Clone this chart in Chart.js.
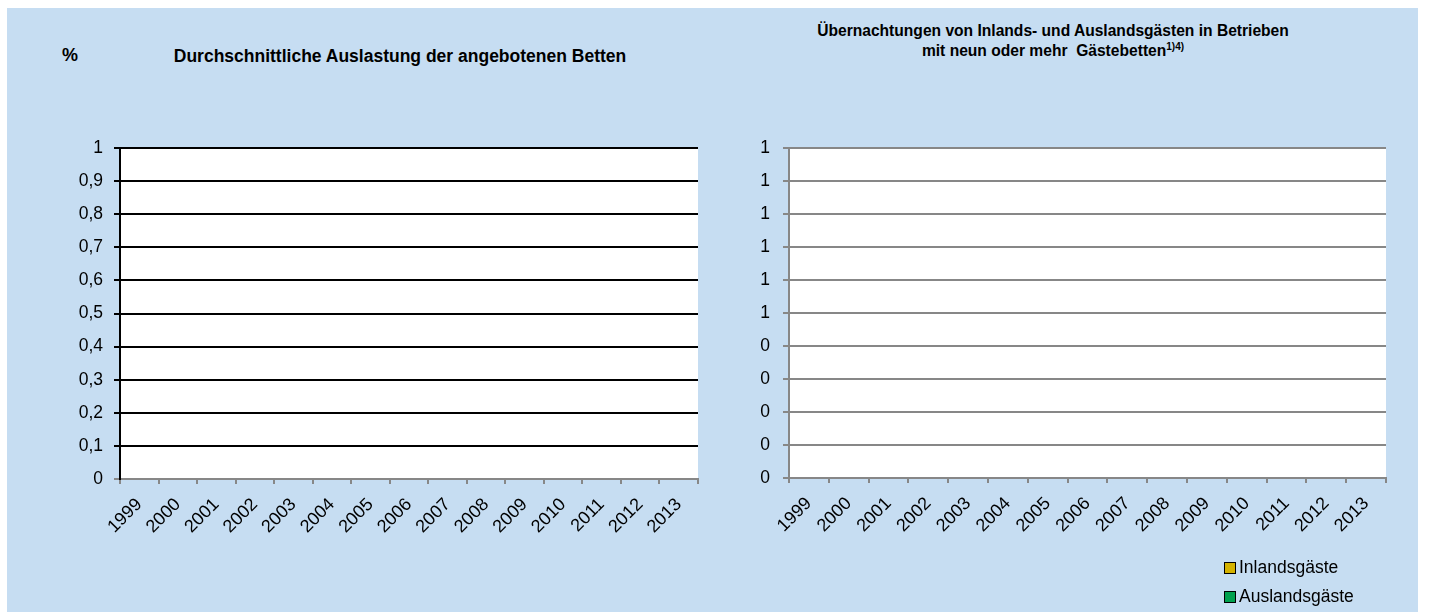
<!DOCTYPE html>
<html>
<head>
<meta charset="utf-8">
<script src="https://cdn.jsdelivr.net/npm/chart.js@4/dist/chart.umd.min.js"></script>
<style>
  html, body { margin: 0; padding: 0; background: #ffffff; }
  body { width: 1429px; height: 612px; position: relative; overflow: hidden; font-family: 'Liberation Sans', Arial, sans-serif; }
  #bg { position: absolute; left: 7px; top: 8px; width: 1411px; height: 604px; background: #c6ddf2; }
  .box { position: absolute; top: 0; height: 612px; }
  #leftBox { left: 0; width: 710px; }
  #rightBox { left: 715px; width: 700px; }
  .title { position: absolute; font-weight: bold; color: #000; white-space: nowrap; text-align: center; }
  #pct { left: 62px; top: 45px; font-size: 18px; }
  #t1 { left: 170px; width: 460px; top: 46px; font-size: 17.5px; }
  #t2 { left: 800px; width: 506px; top: 21px; font-size: 15.6px; line-height: 20px; }
  #t2 sup { font-size: 10px; vertical-align: 6px; line-height: 0; }
  #legend { position: absolute; left: 1224px; top: 553px; font-size: 17.5px; color: #000; }
  .li { display: flex; align-items: center; height: 29px; }
  .sw { width: 10px; height: 10px; border: 1.5px solid #000; margin-right: 3px; }
</style>
</head>
<body>
<div id="bg"></div>
<div class="title" id="pct">%</div>
<div class="title" id="t1">Durchschnittliche Auslastung der angebotenen Betten</div>
<div class="title" id="t2">Übernachtungen von Inlands- und Auslandsgästen in Betrieben<br>mit neun oder mehr&nbsp; Gästebetten<sup>1)4)</sup></div>
<div class="box" id="leftBox"><canvas id="c1"></canvas></div>
<div class="box" id="rightBox"><canvas id="c2"></canvas></div>
<div id="legend"></div>
<script>
// ---- data (the source chart shows no values) ----
const years = ['1999','2000','2001','2002','2003','2004','2005','2006','2007','2008','2009','2010','2011','2012','2013'];
const auslastung = [null, null, null, null, null, null, null, null, null, null, null, null, null, null, null];
const inlandsgaeste = [null, null, null, null, null, null, null, null, null, null, null, null, null, null, null];
const auslandsgaeste = [null, null, null, null, null, null, null, null, null, null, null, null, null, null, null];
const yTicksLeft = ['0', '0,1', '0,2', '0,3', '0,4', '0,5', '0,6', '0,7', '0,8', '0,9', '1'];
const yTicksRight = ['0', '0', '0', '0', '0', '1', '1', '1', '1', '1', '1'];
const seriesNames = ['Inlandsgäste', 'Auslandsgäste'];
const seriesColors = ['#d4b200', '#00a14e'];

const FONT = "'Liberation Sans', Arial, sans-serif";
Chart.defaults.font.family = FONT;
Chart.defaults.color = '#000';
Chart.defaults.animation = false;

const whiteArea = {
  id: 'whiteArea',
  beforeDraw(chart) {
    const a = chart.chartArea, ctx = chart.ctx;
    ctx.save();
    ctx.fillStyle = '#ffffff';
    ctx.fillRect(a.left, a.top, a.right - a.left, a.bottom - a.top);
    ctx.restore();
  }
};

const GRAY = '#878787';

function makeChart(canvasId, datasets, tickLabels, opt) {
  return new Chart(document.getElementById(canvasId), {
    type: 'bar',
    data: { labels: years, datasets: datasets },
    plugins: [whiteArea],
    options: {
      responsive: true,
      maintainAspectRatio: false,
      layout: { padding: { top: 148, left: 0, right: opt.padRight, bottom: 0 } },
      plugins: { legend: { display: false }, title: { display: false }, tooltip: { enabled: false } },
      scales: {
        x: {
          stacked: true,
          afterFit(s) { s.height = opt.xHeight; },
          grid: { drawOnChartArea: false, drawTicks: true, tickLength: 5, color: GRAY, lineWidth: 2, offset: true },
          border: { display: true, color: GRAY, width: 2 },
          ticks: { autoSkip: false, minRotation: 45, maxRotation: 45, padding: 10, font: { size: 18 }, color: '#000' }
        },
        y: {
          stacked: true,
          min: 0, max: 1,
          afterFit(s) { s.width = opt.yWidth; },
          grid: {
            color: (c) => (c.index === 0 ? GRAY : opt.gridColor),
            lineWidth: 2,
            tickLength: 6,
            drawTicks: true
          },
          border: { display: true, color: opt.axisColor, width: 2 },
          ticks: {
            stepSize: 0.1,
            padding: opt.tickPad,
            font: { size: 17.5 },
            color: '#000',
            callback: (v, i) => tickLabels[i]
          }
        }
      }
    }
  });
}

const chart1 = makeChart('c1', [
  { label: 'Durchschnittliche Auslastung der angebotenen Betten', data: auslastung, backgroundColor: '#4f81bd' }
], yTicksLeft, { padRight: 12, xHeight: 133, yWidth: 120, gridColor: '#000000', axisColor: '#000000', tickPad: 11 });

const chart2 = makeChart('c2', [
  { label: seriesNames[0], data: inlandsgaeste, backgroundColor: seriesColors[0] },
  { label: seriesNames[1], data: auslandsgaeste, backgroundColor: seriesColors[1] }
], yTicksRight, { padRight: 29, xHeight: 134, yWidth: 74, gridColor: GRAY, axisColor: GRAY, tickPad: 13 });

// legend built from the chart's datasets
const lg = document.getElementById('legend');
chart2.data.datasets.forEach(ds => {
  const row = document.createElement('div');
  row.className = 'li';
  const sw = document.createElement('div');
  sw.className = 'sw';
  sw.style.background = ds.backgroundColor;
  const tx = document.createElement('span');
  tx.textContent = ds.label;
  row.appendChild(sw); row.appendChild(tx);
  lg.appendChild(row);
});
</script>
</body>
</html>
